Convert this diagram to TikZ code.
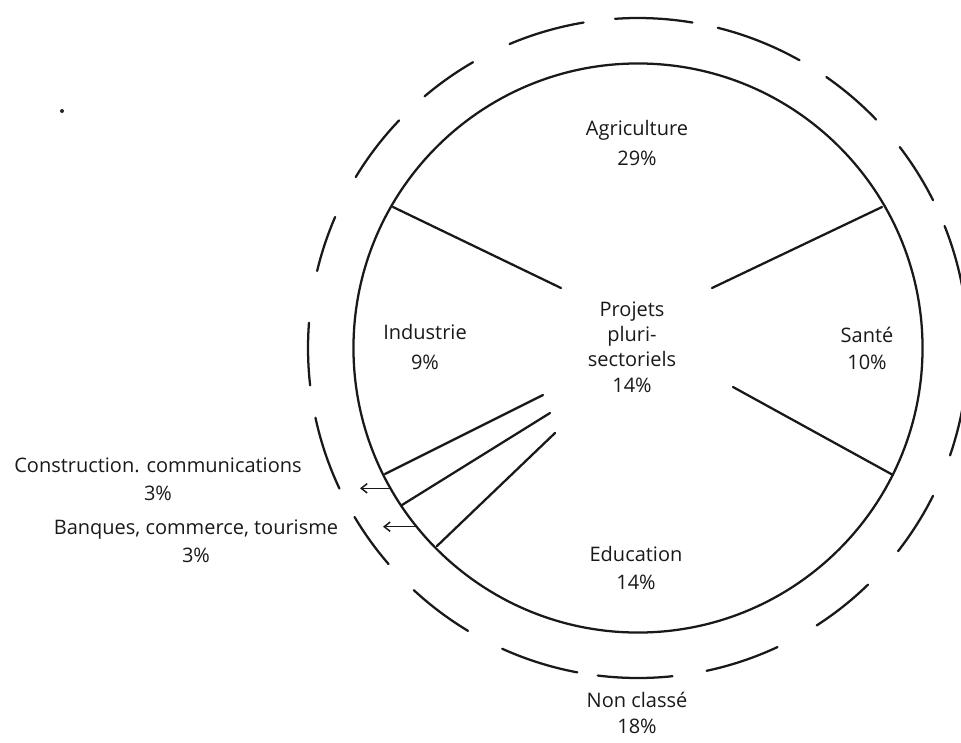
\documentclass[tikz,border=0pt]{standalone}
\usepackage{fontspec}
\setmainfont{Open Sans}
\usetikzlibrary{arrows.meta}
\begin{document}
\begin{tikzpicture}[x=0.75pt,y=-0.75pt,
  ln/.style={line width=1.7pt, black!90, line cap=round},
  thin arrow/.style={line width=1.1pt, black!90, -{Straight Barb[length=4.5pt,width=7pt]}},
  lbl/.style={align=center, inner sep=0pt, text=black!90}
]
\useasboundingbox (0,0) rectangle (961,743);
\clip (0,0) rectangle (961,743);
\coordinate (C) at (638,348);
% inner circle
\draw[ln] (C) circle[radius=213.4pt];
% outer dashed circle
\foreach \a/\b in {80.5/94, 99.5/112.9, 120/130.3, 136.4/148.8, 156.6/166.5,
  175.6/186.5, 192.2/205.2, 210.8/220.9, 227.2/239, 245.7/259.4, 263/276,
  282/295, 302.8/314.2, 322/333.4, 341/352, 368/381.7, 386.6/397.5,
  403.8/415.2, 420.7/436}
  \draw[ln] ([shift={(\a:247.5pt)}]C) arc[start angle=\a, end angle=\b, radius=247.5pt];
% spokes
\coordinate (s1o) at (393,207); \coordinate (s1i) at (561,288);
\coordinate (s2o) at (882,207); \coordinate (s2i) at (712,288);
\coordinate (s3o) at (893,475); \coordinate (s3i) at (733,387);
\coordinate (sAo) at (385,474); \coordinate (sAi) at (543,395);
\coordinate (sBo) at (402,505); \coordinate (sBi) at (550,413);
\coordinate (sCo) at (437,546); \coordinate (sCi) at (555,433);
\foreach \s in {1,2,3,A,B,C} \draw[ln] (s\s o) -- (s\s i);
% arrows
\coordinate (a1s) at (390.5,488.3); \coordinate (a1e) at (360,488.3);
\coordinate (a2s) at (416.6,526.7); \coordinate (a2e) at (383,526.7);
\draw[thin arrow] (a1s) -- (a1e);
\draw[thin arrow] (a2s) -- (a2e);
% stray dot
\fill[black!85] (62,111) circle[radius=1.5pt];
% labels
\node[lbl, font=\fontsize{15}{22.5}\selectfont] (agri) at (637,143) {Agriculture\\29\%};
\node[lbl, font=\fontsize{15}{20}\selectfont] (sante) at (867,348.5) {Santé\\10\%};
\node[lbl, font=\fontsize{15}{22.5}\selectfont] (indus) at (425,347) {Industrie\\9\%};
\node[lbl, font=\fontsize{15}{19}\selectfont] (proj) at (632,347) {Projets\\pluri-\\sectoriels\\14\%};
\node[lbl, font=\fontsize{15}{21.5}\selectfont] (educ) at (636,568) {Education\\14\%};
\node[lbl, font=\fontsize{15}{19.5}\selectfont] (nonc) at (637,713) {Non classé\\18\%};
\node[lbl, font=\fontsize{15}{21}\selectfont] (constr) at (158,479) {Construction. communications\\3\%};
\node[lbl, font=\fontsize{15}{21}\selectfont] (banq) at (196,541) {Banques, commerce, tourisme\\3\%};
\end{tikzpicture}
\end{document}
